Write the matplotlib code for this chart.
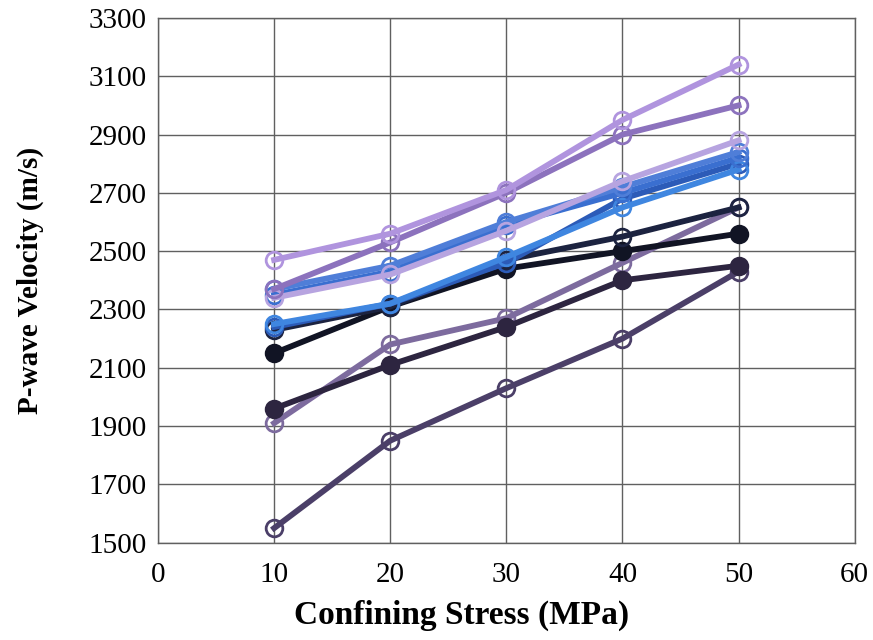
import matplotlib
matplotlib.use("Agg")
import matplotlib.pyplot as plt

stress = [10, 20, 30, 40, 50]

# P-wave velocity (m/s) for each sample
s_lav_top = [2470, 2560, 2710, 2950, 3140]
s_purple_mid = [2370, 2530, 2700, 2900, 3000]
s_lav_low = [2340, 2420, 2570, 2740, 2880]
s_blue_a = [2370, 2450, 2600, 2720, 2840]
s_blue_b = [2350, 2430, 2590, 2700, 2820]
s_blue_c = [2250, 2320, 2480, 2650, 2780]
s_blue_d = [2240, 2320, 2460, 2680, 2800]
s_navy = [2230, 2310, 2470, 2550, 2650]
s_black = [2150, 2310, 2440, 2500, 2560]
s_dark = [1960, 2110, 2240, 2400, 2450]
s_purple_open = [1910, 2180, 2270, 2460, 2650]
s_dark_open = [1550, 1850, 2030, 2200, 2430]

series = [
    (s_dark_open, "#4b3f68", False),
    (s_purple_open, "#7d6b9e", False),
    (s_dark, "#2d2540", True),
    (s_black, "#111424", True),
    (s_navy, "#1c2340", False),
    (s_blue_d, "#2c5bb8", False),
    (s_blue_c, "#3f86e0", False),
    (s_blue_b, "#3a6fd0", False),
    (s_blue_a, "#4f7ed8", False),
    (s_lav_low, "#b7a4e0", False),
    (s_purple_mid, "#8c72bd", False),
    (s_lav_top, "#b094de", False),
]

x_ticks = [0, 10, 20, 30, 40, 50, 60]
y_ticks = [1500, 1700, 1900, 2100, 2300, 2500, 2700, 2900, 3100, 3300]

fig = plt.figure(figsize=(8.73, 6.4), dpi=100)
ax = fig.add_axes([0.181, 0.152, 0.798, 0.82])

for vals, color, filled in series:
    ax.plot(stress, vals, color=color, linewidth=4.2, marker="o",
            markersize=12, markeredgewidth=2,
            markerfacecolor=color if filled else "none",
            markeredgecolor=color, zorder=3)

ax.set_xlim(0, 60)
ax.set_ylim(1500, 3300)
ax.set_xticks(x_ticks)
ax.set_yticks(y_ticks)
ax.grid(True, color="#606060", linewidth=1.0)
ax.set_axisbelow(True)
for sp in ax.spines.values():
    sp.set_color("#606060")
    sp.set_linewidth(1.0)
ax.tick_params(axis="y", length=0, pad=8)
ax.tick_params(axis="x", length=0, pad=14)
for lbl in ax.get_xticklabels() + ax.get_yticklabels():
    lbl.set_fontfamily("Liberation Serif")
    lbl.set_fontsize(21)

ax.set_xlabel("Confining Stress (MPa)", fontfamily="Liberation Serif",
              fontweight="bold", fontsize=24)
ax.xaxis.set_label_coords(0.436, -0.108)
ax.set_ylabel("P-wave Velocity (m/s)", fontfamily="Liberation Serif",
              fontweight="bold", fontsize=21, labelpad=32)

fig.savefig("out.png", dpi=100)
